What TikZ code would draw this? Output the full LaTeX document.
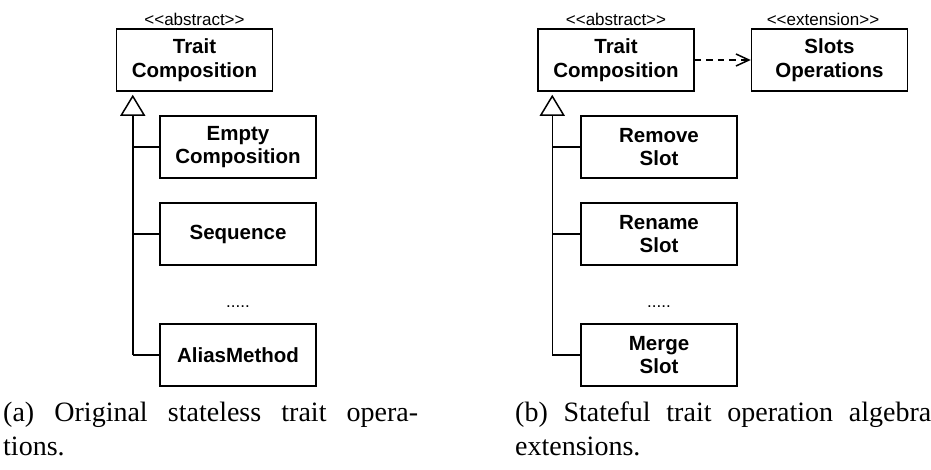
\documentclass[tikz,border=0pt]{standalone}
\usepackage{fontspec}
\setmainfont{Liberation Serif}
\newfontfamily\umlfont{Liberation Sans}
\usetikzlibrary{arrows.meta}

\tikzset{
  x=1pt, y=-1pt,
  cls/.style={draw, line width=1.5pt, minimum width=156pt, minimum height=62pt,
    inner sep=0pt, align=center, font=\umlfont\bfseries\fontsize{20.5}{23.5}\selectfont},
  stereo/.style={inner sep=0pt, anchor=base, font=\umlfont\fontsize{17}{20}\selectfont},
  more/.style={inner sep=0pt, anchor=base, font=\umlfont\fontsize{17}{20}\selectfont},
  link/.style={line width=1.5pt},
  inherit/.style={link, -{Triangle[open, length=21pt, width=25pt]}, shorten >=3pt},
  depend/.style={link, dash pattern=on 6.5pt off 5pt,
    -{Straight Barb[length=13pt, width=12pt]}},
  capt/.style={inner sep=0pt, anchor=base west, font=\fontsize{28}{34}\selectfont},
}

\begin{document}
\begin{tikzpicture}
\useasboundingbox (0,0) rectangle (931,469);

% ---------- (a) stateless operations ----------
\node[cls] (tcA) at (194.5,60) {Trait\\Composition};
\node[stereo] (stA) at (194.5,25) {<\kern0pt<abstract>\kern0pt>};
\node[cls] (empty) at (238,147) {Empty\\Composition};
\node[cls] (seq) at (238,234) {Sequence};
\node[more] (dotsA) at (238,307) {.....};
\node[cls] (alias) at (238,355) {AliasMethod};

\coordinate (trunkA) at ([xshift=17pt]tcA.south west);
\draw[inherit] (trunkA |- alias.west) -- (trunkA);
\draw[link] (trunkA |- empty.west) -- (empty.west);
\draw[link] (trunkA |- seq.west) -- (seq.west);
\draw[link] (trunkA |- alias.west) -- (alias.west);

\node[capt] (capA1) at (3,421) {\makebox[415pt][s]{(a) Original stateless trait opera-}};
\node[capt] (capA2) at (3,455) {tions.};

% ---------- (b) stateful extensions ----------
\node[cls] (tcB) at (616,60) {Trait\\Composition};
\node[stereo] (stB) at (616,25) {<\kern0pt<abstract>\kern0pt>};
\node[cls] (slots) at (829.5,60) {Slots\\Operations};
\node[stereo] (stC) at (823,25) {<\kern0pt<extension>\kern0pt>};
\node[cls] (remove) at (659,147) {Remove\\Slot};
\node[cls] (rename) at (659,234) {Rename\\Slot};
\node[more] (dotsB) at (659,307) {.....};
\node[cls] (merge) at (659,355) {Merge\\Slot};

\draw[depend] (tcB.east) -- (slots.west);

\coordinate (trunkB) at ([xshift=15pt]tcB.south west);
\draw[inherit] (trunkB |- merge.west) -- (trunkB);
\draw[link] (trunkB |- remove.west) -- (remove.west);
\draw[link] (trunkB |- rename.west) -- (rename.west);
\draw[link] (trunkB |- merge.west) -- (merge.west);

\node[capt] (capB1) at (515,421) {\makebox[416pt][s]{(b) Stateful trait operation algebra}};
\node[capt] (capB2) at (515,455) {extensions.};
\end{tikzpicture}
\end{document}
